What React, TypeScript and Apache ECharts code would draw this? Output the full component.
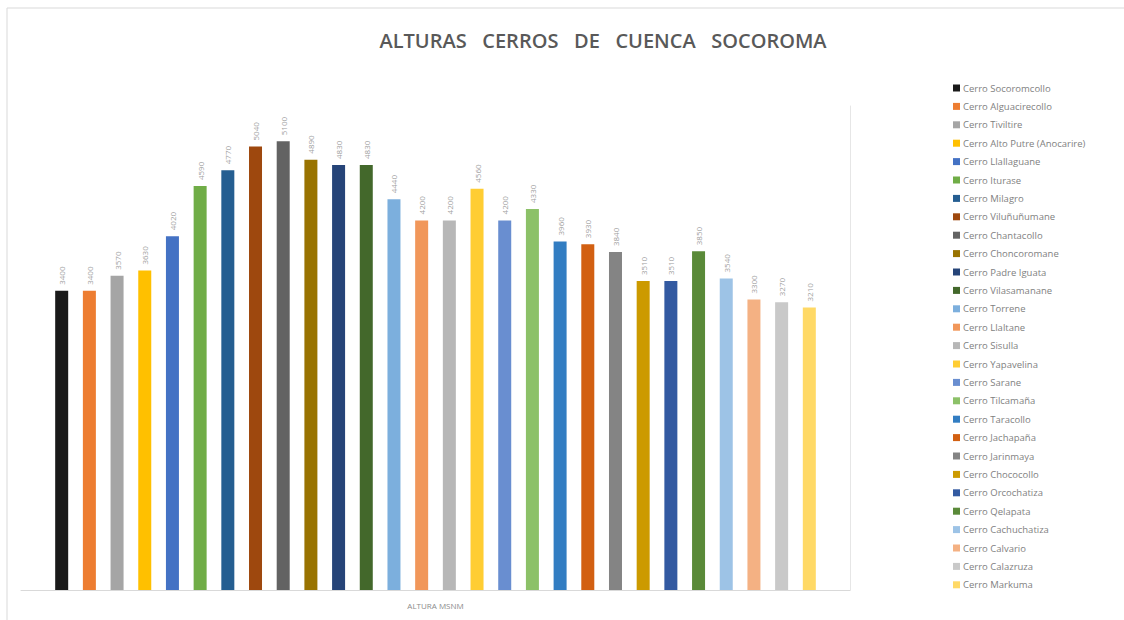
import React, { useEffect, useRef } from "react";
import * as echarts from "echarts";

const categories = ["ALTURA MSNM"];

const peaks = [
  "Cerro Socoromcollo",
  "Cerro Alguacirecollo",
  "Cerro Tiviltire",
  "Cerro Alto Putre (Anocarire)",
  "Cerro Llallaguane",
  "Cerro Iturase",
  "Cerro Milagro",
  "Cerro Viluñuñumane",
  "Cerro Chantacollo",
  "Cerro Choncoromane",
  "Cerro Padre Iguata",
  "Cerro Vilasamanane",
  "Cerro Torrene",
  "Cerro Llaltane",
  "Cerro Sisulla",
  "Cerro Yapavelina",
  "Cerro Sarane",
  "Cerro Tilcamaña",
  "Cerro Taracollo",
  "Cerro Jachapaña",
  "Cerro Jarinmaya",
  "Cerro Chococollo",
  "Cerro Orcochatiza",
  "Cerro Qelapata",
  "Cerro Cachuchatiza",
  "Cerro Calvario",
  "Cerro Calazruza",
  "Cerro Markuma",
];

const heights = [
  3400, 3400, 3570, 3630, 4020, 4590, 4770, 5040, 5100, 4890, 4830, 4830, 4440, 4200,
  4200, 4560, 4200, 4330, 3960, 3930, 3840, 3510, 3510, 3850, 3540, 3300, 3270, 3210,
];

const colors = [
  "#1a1a1a", "#ED7D31", "#A5A5A5", "#FFC000", "#4472C4", "#70AD47", "#255E91",
  "#9E480E", "#636363", "#997300", "#264478", "#43682B", "#7CAFDD", "#F1975A",
  "#B7B7B7", "#FFCD33", "#698ED0", "#8CC168", "#327DC2", "#D26012", "#848484",
  "#CC9A00", "#335AA1", "#5A8A39", "#9DC3E6", "#F4B183", "#C9C9C9", "#FFD966",
];

export default function App() {
  const ref = useRef<HTMLDivElement>(null);
  useEffect(() => {
    if (!ref.current) return;
    const chart = echarts.init(ref.current, undefined, { renderer: "svg" });
    const series = peaks.map((name, i) => ({
      name,
      type: "bar" as const,
      data: [heights[i]],
      barWidth: 13,
      barGap: "113%",
      itemStyle: { color: colors[i] },
      label: {
        show: true,
        position: "top" as const,
        rotate: 90,
        align: "left" as const,
        verticalAlign: "middle" as const,
        distance: 6,
        fontSize: 8,
        color: "#a0a0a0",
        fontFamily: "Open Sans",
      },
    }));
    chart.setOption({
      animation: false,
      backgroundColor: "#ffffff",
      title: {
        text: "ALTURAS   CERROS   DE   CUENCA   SOCOROMA",
        left: 598,
        top: 25,
        textAlign: "center",
        textStyle: {
          fontFamily: "Open Sans",
          fontSize: 20,
          fontWeight: 600,
          color: "#595959",
        },
      },
      legend: {
        orient: "vertical",
        left: 948,
        top: 78,
        itemWidth: 7,
        itemHeight: 7,
        itemGap: 8.4,
        icon: "rect",
        textStyle: {
          fontFamily: "Open Sans",
          fontSize: 9.5,
          color: "#7f7f7f",
          lineHeight: 10,
          padding: [0, 0, 0, -2],
        },
        data: peaks,
      },
      grid: { left: 21, right: 274, top: 106, bottom: 30 },
      xAxis: {
        type: "category",
        data: categories,
        axisLine: { lineStyle: { color: "#d9d9d9" } },
        axisTick: { show: false },
        axisLabel: {
          fontSize: 8,
          color: "#8c8c8c",
          margin: 11,
          fontFamily: "Open Sans",
        },
      },
      yAxis: {
        type: "value",
        min: 0,
        max: 5500,
        position: "right",
        splitLine: { show: false },
        axisLabel: { show: false },
        axisTick: { show: false },
        axisLine: { show: true, lineStyle: { color: "#e6e6e6" } },
      },
      graphic: [
        {
          type: "rect",
          shape: { x: 7, y: 8, width: 1130, height: 620 },
          style: { fill: "none", stroke: "#d9d9d9", lineWidth: 1 },
          silent: true,
        },
      ],
      series,
    });
    return () => chart.dispose();
  }, []);
  return (
    <div
      ref={ref}
      style={{ position: "absolute", left: 0, top: 0, width: 1124, height: 620 }}
    />
  );
}
